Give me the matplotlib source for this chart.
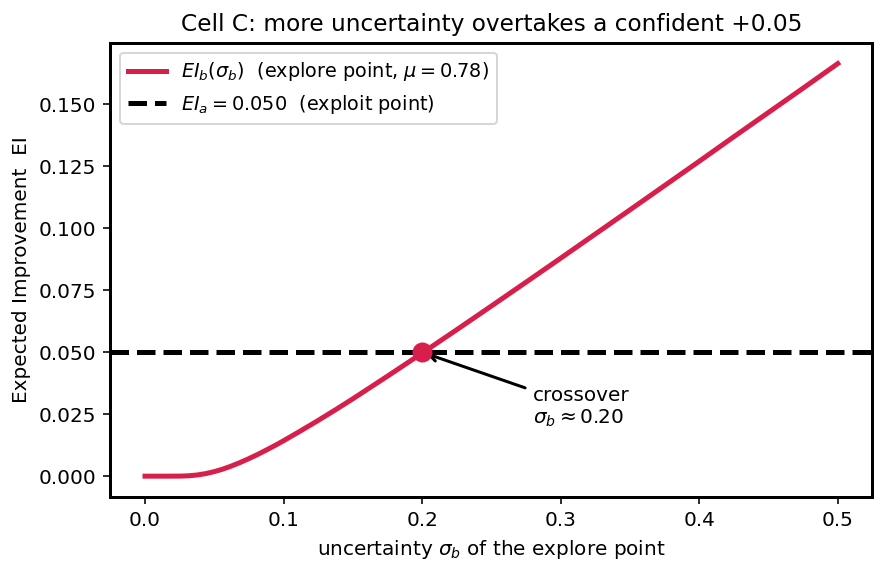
import numpy as np
import matplotlib
matplotlib.use("Agg")
import matplotlib.pyplot as plt

# values
sigma_b = [0.0, 0.0125, 0.025, 0.03125, 0.0375, 0.04375, 0.05, 0.05625, 0.0625, 0.06875,
           0.075, 0.08125, 0.0875, 0.09375, 0.1, 0.1125, 0.125, 0.1375,
           0.15, 0.175, 0.2, 0.225, 0.25, 0.275, 0.3, 0.325, 0.35, 0.375,
           0.4, 0.425, 0.45, 0.475, 0.5]
ei_b = [0.0, 0.0, 0.00002, 0.00014, 0.00046, 0.00102, 0.00183, 0.00286, 0.00412, 0.00553,
        0.00708, 0.00873, 0.01052, 0.01235, 0.01429, 0.01832, 0.02249, 0.02678,
        0.0312, 0.04033, 0.04962, 0.05907, 0.06862, 0.07824, 0.08791, 0.09766, 0.1074, 0.1172,
        0.1270, 0.1369, 0.1467, 0.1565, 0.1664]
ei_a = 0.050
cross_sigma = 0.20
cross_ei = 0.050

fig, ax = plt.subplots(figsize=(883 / 144, 573 / 144), dpi=144)

ax.plot(sigma_b, ei_b, color="#d81e4a", lw=2.5,
        label=r"$EI_b(\sigma_b)$  (explore point, $\mu=0.78$)")
ax.axhline(ei_a, color="black", ls="--", lw=2.5,
           label=r"$EI_a=0.050$  (exploit point)")
ax.plot([cross_sigma], [cross_ei], "o", color="#d81e4a", ms=9, zorder=5)
ax.annotate("crossover\n" + r"$\sigma_b\approx0.20$", xy=(cross_sigma, cross_ei),
            xytext=(0.28, 0.019), ha="left", va="bottom", fontsize=10,
            arrowprops=dict(arrowstyle="->", color="black", lw=1.5))

ax.set_xlabel(r"uncertainty $\sigma_b$ of the explore point")
ax.set_ylabel("Expected Improvement  EI")
ax.set_title("Cell C: more uncertainty overtakes a confident +0.05", fontsize=11.6)
ax.legend(loc="upper left", fontsize=9.6)
for s in ax.spines.values():
    s.set_linewidth(1.5)

fig.subplots_adjust(left=0.125, right=0.988, top=0.925, bottom=0.133)
fig.savefig("out.png", dpi=144)
